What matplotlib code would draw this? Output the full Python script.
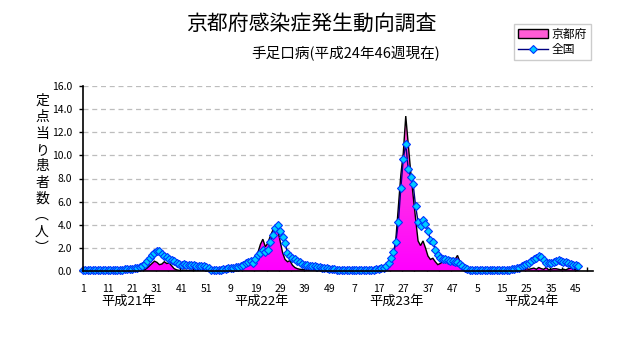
import numpy as np
import matplotlib
matplotlib.use("Agg")
import matplotlib.pyplot as plt
from matplotlib.patches import Patch
from matplotlib.lines import Line2D
from matplotlib.colors import LinearSegmentedColormap

plt.rcParams['font.family'] = ['Noto Sans CJK JP', 'DejaVu Sans']

# weekly counts per sentinel site, hand-foot-and-mouth disease
years = ["平成21年", "平成22年", "平成23年", "平成24年"]
weeks_per_year = [52, 52, 52, 46]

kyoto_h21 = [0.0, 0.0, 0.0, 0.0, 0.0, 0.0, 0.0, 0.0, 0.0, 0.0,
             0.0, 0.0, 0.0, 0.0, 0.0, 0.0, 0.0, 0.0, 0.0, 0.0,
             0.02, 0.02, 0.03, 0.03, 0.05, 0.1, 0.25, 0.45, 0.65, 0.85,
             0.75, 0.55, 0.6, 0.8, 0.65, 0.7, 0.45, 0.2, 0.1, 0.05,
             0.05, 0.08, 0.05, 0.05, 0.08, 0.05, 0.05, 0.05, 0.03, 0.05,
             0.03, 0.03]
kyoto_h22 = [0.02, 0.03, 0.05, 0.03, 0.05, 0.05, 0.08, 0.1,
             0.12, 0.15, 0.2, 0.25, 0.3, 0.35, 0.45, 0.5, 0.6, 0.7,
             1.0, 1.6, 2.3, 2.75, 2.1, 2.4, 3.0, 3.5, 3.9, 3.6,
             2.6, 1.6, 1.0, 0.8, 0.9, 0.5, 0.3, 0.2, 0.15, 0.12,
             0.1, 0.1, 0.08, 0.1, 0.12, 0.1, 0.08, 0.05, 0.05, 0.05,
             0.03, 0.05, 0.03, 0.03]
kyoto_h23 = [0.03, 0.05, 0.03, 0.02, 0.03, 0.05, 0.03, 0.05, 0.05, 0.03,
             0.05, 0.05, 0.05, 0.08, 0.08, 0.1,
             0.1, 0.15, 0.2, 0.3, 0.5, 0.8, 1.3, 2.8, 5.5, 8.3,
             10.2, 13.4, 11.0, 8.6, 6.5, 4.5, 2.6, 2.2, 2.6, 2.0,
             1.3, 1.0, 1.1, 0.8, 0.55, 0.65, 0.8, 0.95, 1.0, 1.05,
             1.1, 1.0, 1.35, 0.8, 0.2, 0.05]
kyoto_h24 = [0.03, 0.02, 0.03, 0.02, 0.02, 0.03, 0.02, 0.02, 0.03, 0.02,
             0.02, 0.03, 0.02, 0.02, 0.03, 0.02, 0.03, 0.03, 0.03, 0.05,
             0.05, 0.1, 0.15, 0.1, 0.2, 0.15, 0.2, 0.25, 0.15, 0.3,
             0.2, 0.15, 0.3, 0.1, 0.15, 0.2, 0.2, 0.15, 0.1, 0.15,
             0.1, 0.2, 0.25, 0.15, 0.1, 0.05]

national_h21 = [0.08, 0.09, 0.09, 0.08, 0.08, 0.07, 0.07, 0.08, 0.08, 0.09,
                0.1, 0.1, 0.1, 0.11, 0.11, 0.12, 0.12, 0.13, 0.15, 0.17,
                0.2, 0.25, 0.3, 0.35, 0.45, 0.6, 0.85, 1.1, 1.35, 1.6,
                1.7, 1.75, 1.5, 1.3, 1.2, 1.05, 0.95, 0.85, 0.7, 0.6,
                0.55, 0.6, 0.55, 0.5, 0.5, 0.48, 0.45, 0.45, 0.42, 0.4,
                0.35, 0.25]
national_h22 = [0.1, 0.08, 0.08, 0.1, 0.12, 0.15, 0.2, 0.22,
                0.25, 0.3, 0.32, 0.35, 0.45, 0.55, 0.65, 0.8, 0.85, 0.7,
                1.0, 1.35, 1.6, 1.8, 1.65, 1.8, 2.5, 3.1, 3.75, 4.0,
                3.5, 2.9, 2.4, 1.6, 1.3, 1.15, 1.0, 0.9, 0.75, 0.6,
                0.55, 0.5, 0.45, 0.42, 0.4, 0.38, 0.35, 0.3, 0.28, 0.25,
                0.2, 0.18, 0.15, 0.12]
national_h23 = [0.1, 0.08, 0.1, 0.12, 0.1, 0.08, 0.1, 0.12, 0.1, 0.1,
                0.12, 0.1, 0.12, 0.1, 0.12, 0.15,
                0.18, 0.22, 0.3, 0.45, 0.7, 1.1, 1.65, 2.55, 4.25, 7.15,
                9.7, 11.0, 8.8, 8.1, 7.5, 5.6, 4.25, 3.9, 4.4, 4.05,
                3.5, 2.7, 2.55, 1.8, 1.4, 1.15, 1.05, 1.0, 0.95, 0.9,
                0.85, 0.8, 0.75, 0.6, 0.45, 0.3]
national_h24 = [0.2, 0.12,
                0.1, 0.08, 0.1, 0.1, 0.08, 0.1, 0.1, 0.1, 0.08, 0.1,
                0.1, 0.1, 0.12, 0.1, 0.12, 0.12, 0.15,
                0.2, 0.25, 0.3, 0.4, 0.5, 0.6, 0.7, 0.9, 1.0, 1.15,
                1.3, 1.2, 0.95, 0.7, 0.65, 0.7, 0.8, 0.9, 0.95, 0.9,
                0.82, 0.75, 0.65, 0.6, 0.55, 0.5, 0.45]

total_categories = 208  # four seasons of 52 weeks on the category axis

kyoto = np.array(kyoto_h21 + kyoto_h22 + kyoto_h23 + kyoto_h24)
national = np.array(national_h21 + national_h22 + national_h23 + national_h24)
x = np.arange(len(kyoto))

week_numbers = []
for n in weeks_per_year:
    week_numbers += list(range(1, 53))
week_numbers = week_numbers[:total_categories]

W, H = 632, 348
fig = plt.figure(figsize=(W / 100, H / 100), dpi=100)
fig.patch.set_facecolor('white')

ax = fig.add_axes([83 / W, 1 - 271 / H, (593 - 83) / W, (271 - 86) / H])
ax.set_xlim(0, total_categories - 1)
ax.set_ylim(0, 16)

# gradient-filled area for Kyoto
area = ax.fill_between(x, 0, kyoto, facecolor='none', edgecolor='none', zorder=2)
cmap = LinearSegmentedColormap.from_list('kyoto', ['#FF00FF', '#FF33E6', '#FF66C4'])
grad = np.linspace(0, 1, 256).reshape(-1, 1)
img = ax.imshow(grad, extent=[0, total_categories - 1, 0, 16], origin='lower',
                aspect='auto', cmap=cmap, zorder=2, interpolation='bilinear')
img.set_clip_path(area.get_paths()[0], transform=ax.transData)
ax.plot(x, kyoto, color='black', lw=1.0, zorder=3, solid_joinstyle='miter')

# national line with markers
ax.plot(x, national, color='#000080', lw=1.0, marker='D', ms=4.0,
        mfc='#00CCFF', mec='#0033FF', mew=0.8, zorder=4, clip_on=False)

# grid
for v in np.arange(2, 16.1, 2):
    ax.axhline(v, color='#BDBDBD', lw=0.9, ls=(0, (4, 3)), zorder=1)

for side in ['top', 'right']:
    ax.spines[side].set_visible(False)
for side in ['left', 'bottom']:
    ax.spines[side].set_color('black')
    ax.spines[side].set_linewidth(1.2)
    ax.spines[side].set_zorder(5)

ax.set_yticks(np.arange(0, 16.1, 2))
ax.set_yticklabels([f"{v:.1f}" for v in np.arange(0, 16.1, 2)], fontsize=7.5)
ax.tick_params(axis='y', direction='out', length=3, width=1, pad=5)

label_pos = np.arange(0, len(kyoto), 10)
ax.set_xticks(label_pos)
ax.set_xticklabels([str(week_numbers[i]) for i in label_pos], fontsize=7.5)
ax.tick_params(axis='x', which='major', length=0, pad=9)
ax.set_xticks(np.arange(4.5, total_categories, 5), minor=True)
ax.tick_params(axis='x', which='minor', direction='in', length=3, width=1)

# year labels under the week numbers
for label, px in zip(years, [129, 262, 397, 532]):
    fig.text(px / W, 1 - 301 / H, label, ha='center', va='center', fontsize=9.5)

# stacked vertical y-axis label
ylabel_chars = ['定', '点', '当', 'り', '患', '者', '数', '︵', '人', '︶']
for k, ch in enumerate(ylabel_chars):
    fig.text(42 / W, 1 - (101 + k * 16.3) / H, ch, ha='center', va='center', fontsize=10)

fig.text(311 / W, 1 - 24 / H, '京都府感染症発生動向調査', ha='center', va='center', fontsize=15)
fig.text(346 / W, 1 - 54 / H, '手足口病(平成24年46週現在)', ha='center', va='center', fontsize=10.5)

handles = [Patch(facecolor='#FF5CD6', edgecolor='black', lw=1.0),
           Line2D([0], [0], color='#000080', lw=1.0, marker='D', ms=4.0,
                  mfc='#00CCFF', mec='#0033FF', mew=0.8)]
leg = fig.legend(handles, ['京都府', '全国'], loc='upper left',
                 bbox_to_anchor=(514 / W, 1 - 24 / H), fontsize=8.5,
                 frameon=True, fancybox=False, borderpad=0.3, labelspacing=0.25,
                 handlelength=2.6, handletextpad=0.3, borderaxespad=0)
leg.get_frame().set_edgecolor('#C0C0C0')
leg.get_frame().set_linewidth(1.0)

fig.savefig('out.png', dpi=100)
